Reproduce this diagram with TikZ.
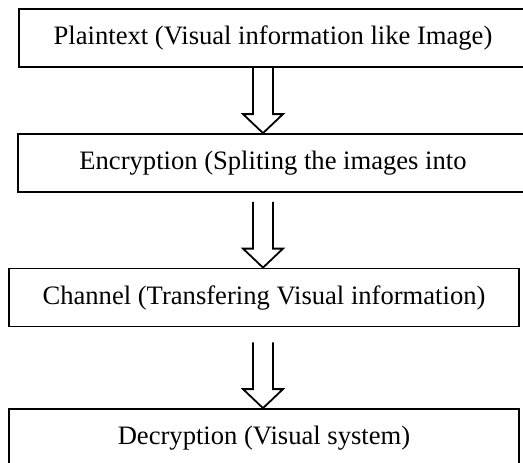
\documentclass[tikz,border=0pt]{standalone}
\usepackage{fontspec}
\setmainfont{Liberation Serif}
\usetikzlibrary{calc}

\tikzstyle{stage} = [rectangle,
minimum height=29pt,
inner sep=0pt,
text centered,
draw=black,
line width=0.9pt,
font=\fontsize{13.3pt}{16pt}\selectfont]
\tikzstyle{blockarrow} = [draw=black, line width=0.9pt, line join=miter]

% hollow block arrow from #1 (top of shaft) to #2 (tip)
\newcommand{\hollowarrow}[2]{%
\draw [blockarrow] let \p1=(#1), \p2=(#2) in
(\x1-5pt,\y1) -- (\x1-5pt,\y2+9.5pt) -- (\x1-10pt,\y2+9.5pt) -- (\x1,\y2)
-- (\x1+10pt,\y2+9.5pt) -- (\x1+5pt,\y2+9.5pt) -- (\x1+5pt,\y1);}

\begin{document}
\begin{tikzpicture}[x=0.5pt, y=-0.5pt]
\useasboundingbox (0,0) rectangle (523,462);

\node (plain) [stage, minimum width=254pt] at (273,38) {Plaintext (Visual information like Image)};
\node (enc) [stage, minimum width=255pt] at (273,163) {Encryption (Spliting the images into};
\node (chan) [stage, minimum width=255pt] at (264,297.5) {Channel (Transfering Visual information)};
\node (dec) [stage, minimum width=255pt] at (264,438) {Decryption (Visual system)};

\coordinate (axis) at (263,0);
\coordinate (a1) at (plain.south -| axis);
\coordinate (a2) at ($(enc.south -| axis)+(0,9)$);
\coordinate (a3) at ($(chan.south -| axis)+(0,15)$);

\hollowarrow{a1}{enc.north -| axis}
\hollowarrow{a2}{chan.north -| axis}
\hollowarrow{a3}{dec.north -| axis}

\end{tikzpicture}
\end{document}
